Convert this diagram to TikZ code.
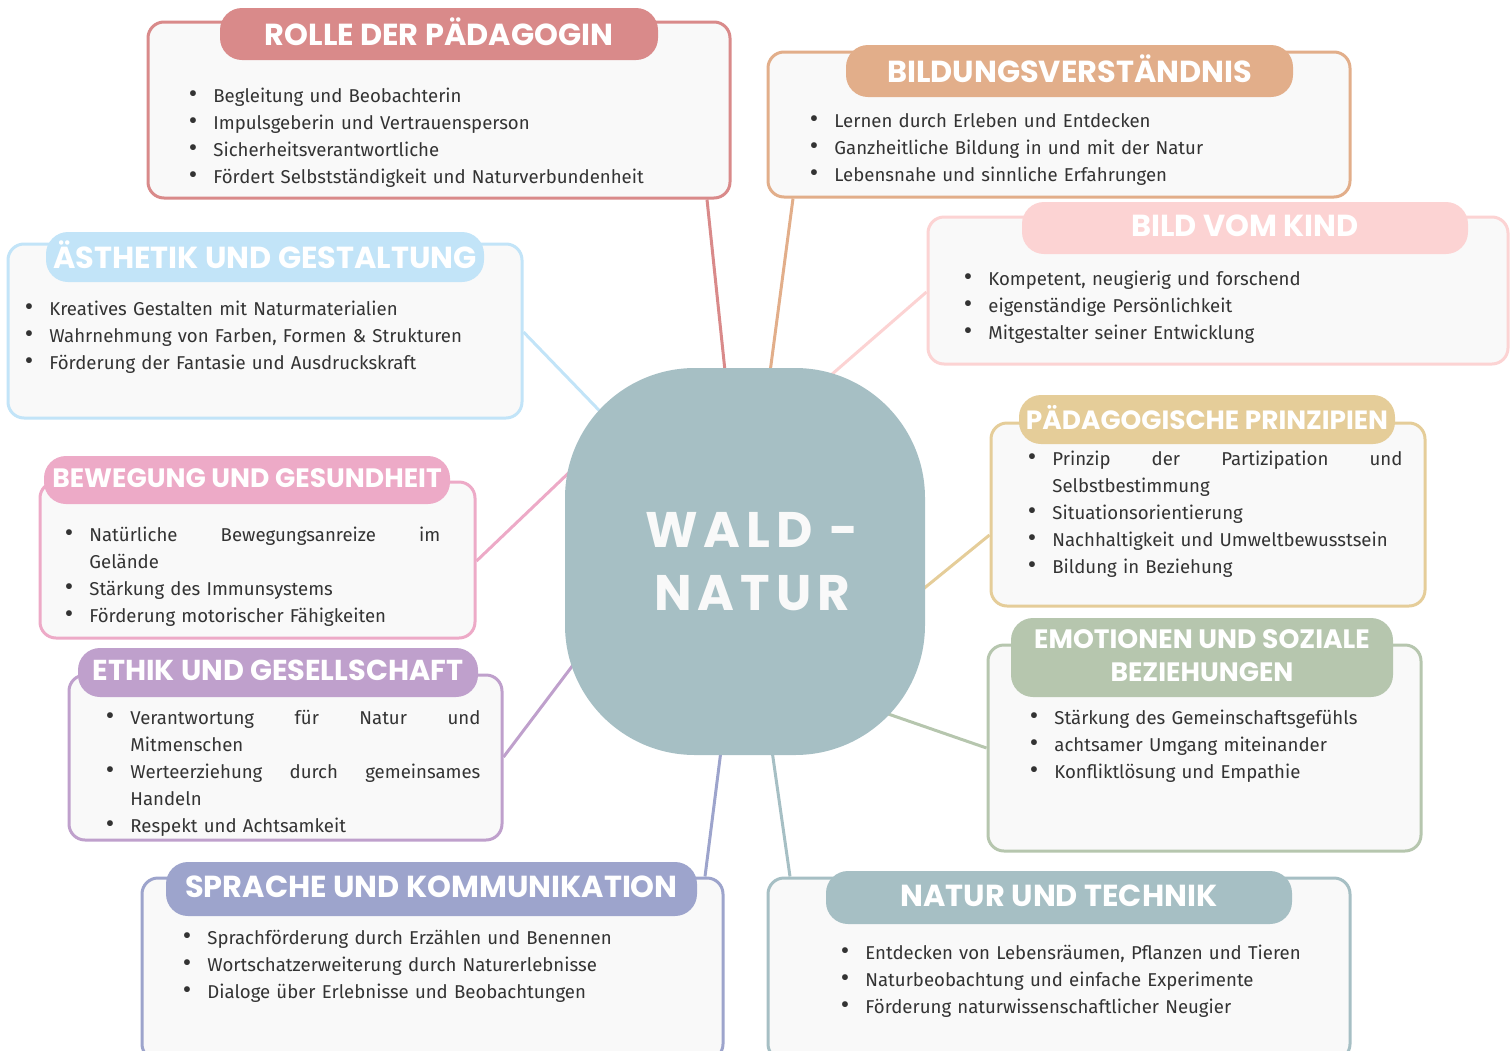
\documentclass[tikz,border=0pt]{standalone}
\usepackage{fontspec}
\setmainfont{Fira Sans}
\newfontfamily\headfont{Poppins}
\newfontfamily\hubfont{Poppins}[LetterSpace=12]
\usepackage{enumitem}
\setlist[itemize]{label={\fontsize{13}{13}\selectfont\textbullet}, leftmargin=14pt, labelsep=8pt, itemsep=0pt, topsep=0pt, parsep=0pt, partopsep=0pt}
\usetikzlibrary{fit, backgrounds}

\definecolor{paper}{HTML}{F9F9F9}
\definecolor{ink}{HTML}{333333}
\definecolor{rolleC}{HTML}{D98A8A}
\definecolor{bildungC}{HTML}{E2AE8A}
\definecolor{kindC}{HTML}{FCD3D3}
\definecolor{aesthC}{HTML}{C2E4F8}
\definecolor{bewegC}{HTML}{EDAAC7}
\definecolor{ethikC}{HTML}{BFA0CC}
\definecolor{spracheC}{HTML}{9DA4CC}
\definecolor{naturC}{HTML}{A6BFC4}
\definecolor{prinzC}{HTML}{E5CD99}
\definecolor{emoC}{HTML}{B6C6AE}

\tikzset{
  box/.style={draw=#1, line width=1.5pt, fill=paper, rounded corners=8pt, inner sep=0pt},
  pill/.style={fill=#1, rounded corners=11pt, inner sep=0pt},
  titletxt/.style={text=white, font=\headfont\bfseries\fontsize{#1}{16.5}\selectfont, align=center, inner sep=0pt, yshift=1pt},
  titletxt/.default=15.2,
  list/.style={anchor=north west, inner sep=0pt, text width=#1, font=\fontsize{9.3}{13.5}\selectfont, text=ink, align=left},
  conn/.style={draw=#1, line width=1.5pt},
}

\begin{document}
\begin{tikzpicture}[x=0.5pt, y=-0.5pt]
  \useasboundingbox (0,0) rectangle (1510,1050);

  % centre
  \node[fill=naturC, rounded corners=65pt, minimum width=180pt, minimum height=193.5pt] (wald) at (745,561.5) {};
  \node[text=paper, font=\hubfont\bfseries\fontsize{25}{31.5}\selectfont, align=center] (waldTitle) at (752,562) {WALD -\\NATUR};

  % boxes
  \node[box=rolleC, fit={(148,22) (730,198)}] (rolle) {};
  \node[pill=rolleC, fit={(220,8) (658,60)}] (rolleHead) {};
  \node[titletxt] (rolleTitle) at (rolleHead) {ROLLE DER PÄDAGOGIN};
  \node[list=260pt] (rolleList) at (185,75) {\begin{itemize}
    \item Begleitung und Beobachterin
    \item Impulsgeberin und Vertrauensperson
    \item Sicherheitsverantwortliche
    \item Fördert Selbstständigkeit und Naturverbundenheit
  \end{itemize}};

  \node[box=bildungC, fit={(768,52) (1350,197)}] (bildung) {};
  \node[pill=bildungC, fit={(846,45) (1293,97)}] (bildungHead) {};
  \node[titletxt] (bildungTitle) at (bildungHead) {BILDUNGSVERSTÄNDNIS};
  \node[list=260pt] (bildungList) at (806,100) {\begin{itemize}
    \item Lernen durch Erleben und Entdecken
    \item Ganzheitliche Bildung in und mit der Natur
    \item Lebensnahe und sinnliche Erfahrungen
  \end{itemize}};

  \node[box=kindC, fit={(928,217) (1508,364)}] (kind) {};
  \node[pill=kindC, fit={(1022,202) (1468,254)}] (kindHead) {};
  \node[titletxt] (kindTitle) at (kindHead) {BILD VOM KIND};
  \node[list=260pt] (kindList) at (960,258) {\begin{itemize}
    \item Kompetent, neugierig und forschend
    \item eigenständige Persönlichkeit
    \item Mitgestalter seiner Entwicklung
  \end{itemize}};

  \node[box=aesthC, fit={(8,244) (522,418)}] (aesth) {};
  \node[pill=aesthC, fit={(46,232) (484,282)}] (aesthHead) {};
  \node[titletxt] (aesthTitle) at (aesthHead) {ÄSTHETIK UND GESTALTUNG};
  \node[list=240pt] (aesthList) at (21,288) {\begin{itemize}
    \item Kreatives Gestalten mit Naturmaterialien
    \item Wahrnehmung von Farben, Formen \& Strukturen
    \item Förderung der Fantasie und Ausdruckskraft
  \end{itemize}};

  \node[box=bewegC, fit={(40,482) (475,638)}] (beweg) {};
  \node[pill=bewegC, fit={(44,456) (450,504)}] (bewegHead) {};
  \node[titletxt=13.3] (bewegTitle) at (bewegHead) {BEWEGUNG UND GESUNDHEIT};
  \node[list=189.5pt] (bewegList) at (61,514) {\begin{itemize}
    \item Natürliche\hfill Bewegungsanreize\hfill im\\Gelände
    \item Stärkung des Immunsystems
    \item Förderung motorischer Fähigkeiten
  \end{itemize}};

  \node[box=ethikC, fit={(69,675) (502,840)}] (ethik) {};
  \node[pill=ethikC, fit={(78,648) (478,697)}] (ethikHead) {};
  \node[titletxt=14.4] (ethikTitle) at (ethikHead) {ETHIK UND GESELLSCHAFT};
  \node[list=189pt] (ethikList) at (102,697) {\begin{itemize}
    \item Verantwortung\hfill für\hfill Natur\hfill und\\Mitmenschen
    \item Werteerziehung\hfill durch\hfill gemeinsames\\Handeln
    \item Respekt und Achtsamkeit
  \end{itemize}};

  \node[box=spracheC, fit={(142,878) (723,1060)}] (sprache) {};
  \node[pill=spracheC, fit={(166,862) (697,916)}] (spracheHead) {};
  \node[titletxt] (spracheTitle) at (spracheHead) {SPRACHE UND KOMMUNIKATION};
  \node[list=260pt] (spracheList) at (179,917) {\begin{itemize}
    \item Sprachförderung durch Erzählen und Benennen
    \item Wortschatzerweiterung durch Naturerlebnisse
    \item Dialoge über Erlebnisse und Beobachtungen
  \end{itemize}};

  \node[box=naturC, fit={(768,878) (1350,1060)}] (natur) {};
  \node[pill=naturC, fit={(826,871) (1292,924)}] (naturHead) {};
  \node[titletxt] (naturTitle) at (naturHead) {NATUR UND TECHNIK};
  \node[list=260pt] (naturList) at (837,932) {\begin{itemize}
    \item Entdecken von Lebensräumen, Pflanzen und Tieren
    \item Naturbeobachtung und einfache Experimente
    \item Förderung naturwissenschaftlicher Neugier
  \end{itemize}};

  \node[box=prinzC, fit={(991,423) (1425,606)}] (prinz) {};
  \node[pill=prinzC, fit={(1019,395) (1395,444)}] (prinzHead) {};
  \node[titletxt=13.2] (prinzTitle) at (prinzHead) {PÄDAGOGISCHE PRINZIPIEN};
  \node[list=189pt] (prinzList) at (1024,438) {\begin{itemize}
    \item Prinzip\hfill der\hfill Partizipation\hfill und\\Selbstbestimmung
    \item Situationsorientierung
    \item Nachhaltigkeit und Umweltbewusstsein
    \item Bildung in Beziehung
  \end{itemize}};

  \node[box=emoC, fit={(988,645) (1421,851)}] (emo) {};
  \node[pill=emoC, fit={(1011,618) (1393,697)}] (emoHead) {};
  \node[titletxt=13.3] (emoTitle) at (emoHead) {EMOTIONEN UND SOZIALE\\BEZIEHUNGEN};
  \node[list=240pt] (emoList) at (1026,697) {\begin{itemize}
    \item Stärkung des Gemeinschaftsgefühls
    \item achtsamer Umgang miteinander
    \item Konfliktlösung und Empathie
  \end{itemize}};

  % connectors
  \coordinate (kindIn) at (800,402);
  \coordinate (bewegIn) at (601,442);
  \coordinate (ethikIn) at (601,628);
  \coordinate (prinzIn) at (895,612);
  \coordinate (emoIn) at (842,698);
  \begin{scope}[on background layer]
    \draw[conn=rolleC] (rolle.south -| 707,0) -- (wald.center);
    \draw[conn=bildungC] (bildung.south -| 793,0) -- (wald.center);
    \draw[conn=kindC] (kind.west |- 0,292) -- (kindIn);
    \draw[conn=aesthC] (aesth.east |- 0,332) -- (wald.center);
    \draw[conn=bewegC] (beweg.east |- 0,561) -- (bewegIn);
    \draw[conn=ethikC] (ethik.east |- 0,757) -- (ethikIn);
    \draw[conn=spracheC] (sprache.north -| 705,0) -- (wald.center);
    \draw[conn=naturC] (natur.north -| 790,0) -- (wald.center);
    \draw[conn=prinzC] (prinz.west |- 0,535) -- (prinzIn);
    \draw[conn=emoC] (emo.west |- 0,748) -- (emoIn);
  \end{scope}
\end{tikzpicture}
\end{document}
